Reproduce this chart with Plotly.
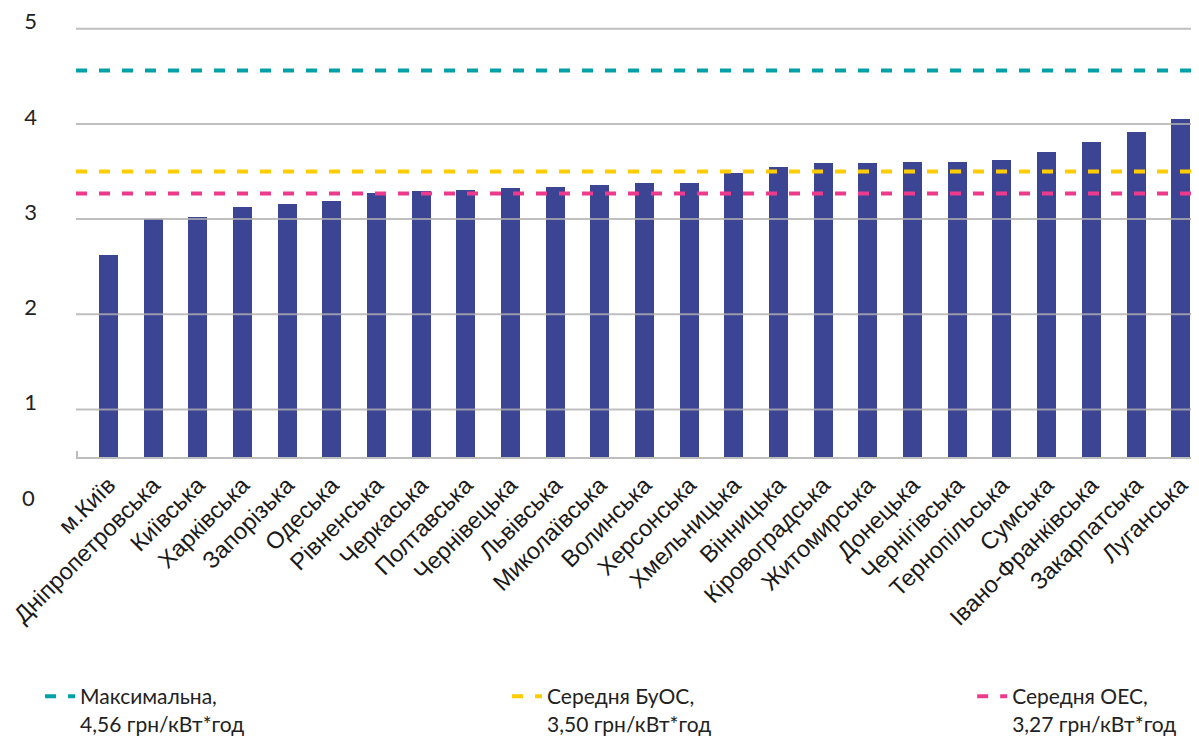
import plotly.graph_objects as go

regions = ["м.Київ", "Дніпропетровська", "Київська", "Харківська", "Запорізька",
           "Одеська", "Рівненська", "Черкаська", "Полтавська", "Чернівецька",
           "Львівська", "Миколаївська", "Волинська", "Херсонська", "Хмельницька",
           "Вінницька", "Кіровоградська", "Житомирська", "Донецька", "Чернігівська",
           "Тернопільська", "Сумська", "Івано-Франківська", "Закарпатська", "Луганська"]
tariffs = [2.62, 3.00, 3.02, 3.13, 3.16, 3.19, 3.27, 3.29, 3.31, 3.33, 3.34, 3.36, 3.38,
           3.38, 3.48, 3.55, 3.59, 3.59, 3.60, 3.60, 3.62, 3.70, 3.81, 3.91, 4.05]

ref_names = ["Максимальна,<br>4,56 грн/кВт*год",
             "Середня БуОС,<br>3,50 грн/кВт*год",
             "Середня ОЕС,<br>3,27 грн/кВт*год"]
ref_values = [4.56, 3.50, 3.27]
ref_colors = ["#00a0a8", "#ffcc00", "#ec3a8c"]
legend_ids = ["legend", "legend2", "legend3"]
legend_x = [-0.032, 0.3838, 0.798]

y_ticks = [1, 2, 3, 4, 5]
y_zero_label = "0"

bar_color = "#3c4494"
x_range = [-0.7276, 24.41]
y_range = [0.5, 5.155]
plot_h = 443

idx = list(range(len(regions)))

fig = go.Figure()
fig.add_trace(go.Bar(x=idx, y=tariffs, width=0.425, marker_color=bar_color,
                     marker_line_width=0, showlegend=False, hoverinfo="x+y"))

for name, val, col, lg in zip(ref_names, ref_values, ref_colors, legend_ids):
    fig.add_trace(go.Scatter(x=x_range, y=[val, val], mode="lines", name=name,
                             legend=lg,
                             line=dict(color=col, width=4, dash="11px,12px")))

# gridlines drawn above the bars, as in the reference
for t in y_ticks:
    fig.add_shape(type="line", xref="paper", x0=0, x1=1, yref="y", y0=t, y1=t,
                  line=dict(color="rgba(175,175,175,0.8)", width=2), layer="above")
# small tick at the left end of the category axis
fig.add_shape(type="line", xref="paper", x0=0.0009, x1=0.0009, yref="y",
              y0=y_range[0] - 0.063, y1=y_range[0] + 0.063,
              line=dict(color="#bdbdbd", width=2))

fig.add_annotation(text=y_zero_label, xref="paper", x=-0.0347, xanchor="right",
                   yref="paper", y=-40 / plot_h, yanchor="middle", showarrow=False,
                   font=dict(family="Lato", size=22, color="#222222"))

legend_font = dict(family="Lato", size=21, color="#222222")
legend_common = dict(orientation="h", xanchor="left", y=-219 / plot_h, yanchor="top",
                     valign="top", font=legend_font, bgcolor="rgba(0,0,0,0)")

fig.update_layout(
    width=1191, height=732,
    margin=dict(l=68, r=0, t=6, b=283, autoexpand=False),
    plot_bgcolor="white", paper_bgcolor="white",
    bargap=0,
    xaxis=dict(range=x_range, tickvals=idx, ticktext=regions, tickangle=-45,
               automargin=False, ticklabeloverflow="allow", ticklabelstandoff=3,
               showgrid=False, zeroline=False, showline=True, linecolor="#bdbdbd",
               linewidth=2, ticks="",
               tickfont=dict(family="Liberation Sans, Arial", size=23.5, color="#1a1a1a")),
    yaxis=dict(range=y_range, tickvals=y_ticks, showgrid=False, zeroline=False,
               automargin=False, ticklabeloverflow="allow",
               showline=False, ticks="", ticklabelshift=-7, ticklabelstandoff=38,
               tickfont=dict(family="Lato", size=22, color="#222222")),
    legend=dict(x=legend_x[0], **legend_common),
    legend2=dict(x=legend_x[1], **legend_common),
    legend3=dict(x=legend_x[2], **legend_common),
)

fig.write_html("out.html")
